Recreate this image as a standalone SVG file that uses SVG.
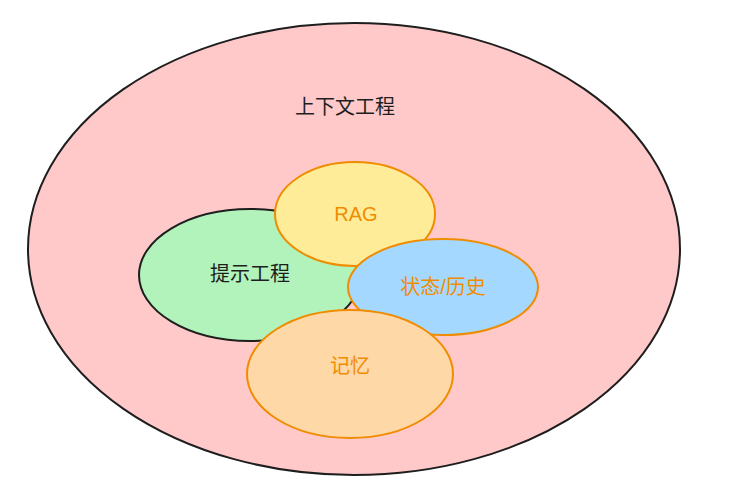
<svg xmlns="http://www.w3.org/2000/svg" width="737" height="493" viewBox="0 0 737 493">
<style>
.t{font-family:"Liberation Sans","Noto Sans CJK SC",sans-serif;font-size:20px;text-anchor:middle;dominant-baseline:central}
.d{fill:#1e1e1e}.o{fill:#f08c00}
.e{stroke-width:2}
</style>
<rect width="737" height="493" fill="#fff"/>
<g id="context"><ellipse cx="354" cy="249" rx="326" ry="226" fill="#ffc9c9" stroke="#1e1e1e" class="e"/><text class="t d" x="345" y="107">上下文工程</text></g>
<g id="prompt"><ellipse cx="250" cy="275" rx="111" ry="66" fill="#b2f2bb" stroke="#1e1e1e" class="e"/><text class="t d" x="250" y="274">提示工程</text></g>
<g id="rag"><ellipse cx="355" cy="214" rx="80" ry="52" fill="#ffec99" stroke="#f08c00" class="e"/><text class="t o" x="356" y="214">RAG</text></g>
<g id="state"><ellipse cx="443" cy="287" rx="95" ry="48" fill="#a5d8ff" stroke="#f08c00" class="e"/><text class="t o" x="443" y="287">状态/历史</text></g>
<g id="memory"><ellipse cx="350" cy="374" rx="103" ry="64" fill="#ffd8a8" stroke="#f08c00" class="e"/><text class="t o" x="350" y="366">记忆</text></g>
<g id="connectors"></g>
</svg>
